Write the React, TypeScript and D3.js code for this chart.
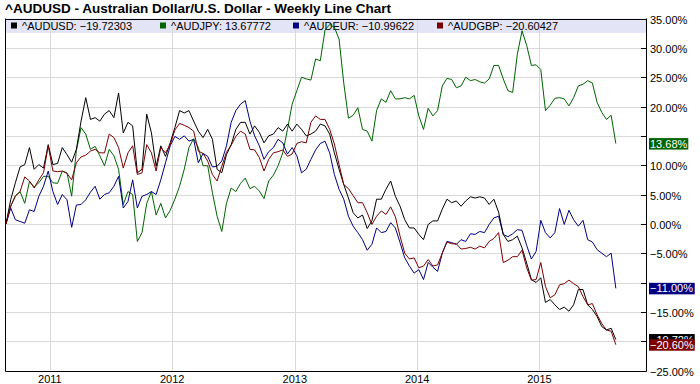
import React from 'react';
import * as d3 from 'd3';

const W = 700;
const H = 384;

const startDate = new Date(2010, 7, 23);
const domainEnd = new Date(2015, 10, 15);
// two-weekly sampling dates
const dates = d3.range(131).map((i) => d3.timeDay.offset(startDate, 14 * i));

const title = '^AUDUSD - Australian Dollar/U.S. Dollar - Weekly Line Chart';
const seriesNames = ['^AUDUSD', '^AUDJPY', '^AUDEUR', '^AUDGBP'];
const legendValues = ['−19.72303', '13.67772', '−10.99622', '−20.60427'];
const seriesColors = ['#000000', '#006400', '#000080', '#7a0000'];
const yTicks = [35, 30, 25, 20, 15, 10, 5, 0, -5, -10, -15, -20, -25];
// tick labels suppressed by the last-value boxes in the reference
const hiddenTickLabels = [15, -10, -20];
const yearTicks = [2011, 2012, 2013, 2014, 2015];

const audusd = [
  0, 4.1, 7, 9.7, 10.1, 13, 9.3, 10.1, 9.5, 13.5,
  10.1, 10.3, 13, 11.8, 10.5, 12.7, 17.5, 21.5, 17.8, 18.1,
  17.5, 18.7, 19.3, 18.1, 22.3, 15.5, 17.3, 16.7, 8.7, 9.3,
  18.7, 15.5, 9.8, 13.3, 11.5, 13.8, 16.4, 19.3, 18.9, 19.3,
  17.5, 15.8, 14.7, 16.1, 14.4, 9.3, 8.7, 11.8, 13.5, 16.1,
  17.3, 17.3, 15.3, 16.7, 15.6, 13.8, 15, 15.3, 16.4, 15.8,
  17, 15.8, 17, 16.1, 15, 15.3, 15.8, 17, 16.7, 15.3,
  12.1, 9.3, 6.7, 4.4, 1.9, 1, 1.5, -0.8, 0.5, 4.2,
  4.2, 5.9, 7.3, 4.7, 3, 0.7, -0.7, -0.7, -1.8, -2.7,
  -0.1, 0.5, 0.5, 2.5, 4.2, 3.6, 3.9, 3, 3.9, 4.6,
  4.4, 4.6, 4.4, 3.3, 4.2, 2, -1.8, -3, -2.7, -2.1,
  -4.1, -6.7, -9.5, -10, -9.2, -13.4, -12.9, -13.8, -14.6, -14.2,
  -14.9, -13.8, -11.2, -11.2, -13.8, -14.6, -15.8, -17.5, -18.1, -17.8,
  -19.72303,
];

const audjpy = [
  0, 3, 4.8, 5.5, 3.5, 7.2, 6.3, 7, 8.1, 8.1,
  7, 6.9, 9, 8.7, 4.7, 12.5, 16.4, 15.3, 12.7, 13.2,
  11.6, 9.9, 12.7, 11.6, 9.3, 3.3, 5.5, 5, -3, -1.5,
  3.5, 5.5, 1.5, 3.5, 1, 2.3, 4.2, 6.4, 9.3, 13,
  14.5, 13, 9.9, 9.9, 5.3, 1.3, -1.3, 3.5, 6.1, 5.5,
  6.9, 7.8, 6, 6.4, 5.6, 4.3, 7.3, 8.3, 9.9, 12.1,
  16.1, 20.4, 22.7, 25, 24.7, 24.5, 28.1, 27.8, 33, 34,
  33.5, 31.5, 24, 18, 18.5, 19.8, 16.1, 15.8, 14.1, 19.3,
  21.3, 20.7, 22.7, 21.3, 21.3, 21.5, 21.3, 21.9, 18.4, 16.1,
  19.7, 18.4, 19.3, 23.5, 24.8, 24.6, 23.2, 23.5, 25, 24.4,
  24.6, 24.2, 24, 24.7, 27, 27, 24.7, 22.7, 22.4, 28.9,
  32.9, 30.4, 27, 27.1, 26.3, 19.3, 20.2, 21.4, 21.5, 21.3,
  20.1, 21.5, 23.5, 23.8, 24.4, 24, 20.7, 19, 17.8, 18.5,
  13.67772,
];

const audeur = [
  0, 2.7, 0.7, 0.4, 0.1, 2.4, 2.1, 4.7, 6.4, 9,
  5.5, 3.3, 5, 4.1, -0.6, 3.2, 3.3, 4.1, 5.4, 6.4,
  4.2, 5, 5.3, 6.4, 8.1, 2.7, 3.8, 7.5, 2.7, 4.7,
  5, 5.5, 5, 7.5, 10.4, 13.3, 14.9, 14.4, 15, 14.1,
  14.4, 10.4, 12, 11.5, 9.7, 9.8, 10.7, 13.3, 17.3, 19.3,
  20.4, 21, 17.5, 15, 13.3, 11, 12.3, 13, 14.4, 13.8,
  11.9, 13, 11.6, 8.7, 9.3, 11, 12.6, 13.7, 14.1, 12.1,
  8.4, 5.9, 4.2, 1.3, -0.4, -1.5, -2.7, -4.5, -3.5, -0.7,
  -1.5, -1.3, 0.2, -0.7, -3.2, -5.8, -7.2, -8.4, -7.8, -9.5,
  -6.6, -7.4, -8.1, -5, -3, -3.2, -3.5, -2.7, -3, -1.7,
  -1.8, -1.3, -1.5, -0.1, 1, 1.3, -1.8, -2.2, -1.7, -1,
  -1.1, -3.7, -6, -4.7, 0.6, -1.5, -2.4, -1.5, 2.6, -0.1,
  2.3, 0.7, -0.4, 0.6, -2.7, -3.1, -4.4, -5, -5.6, -5,
  -10.99622,
];

const audgbp = [
  0, 3, 4.7, 5.5, 8, 7.3, 6.1, 7.5, 8.7, 13.3,
  9, 8.9, 9, 8.6, 7.5, 10.4, 11.4, 11.7, 12.4, 12.7,
  12.1, 12.1, 15.3, 14.7, 13, 9.5, 12.1, 13.3, 8.4, 8.7,
  13.5, 12.1, 9, 13, 12.1, 13.5, 16, 17.1, 16.8, 16.4,
  15.8, 12.4, 12, 10.7, 8.4, 7.3, 9.8, 12.2, 13.4, 14.9,
  15.8, 15.3, 12.7, 12.6, 11.3, 9, 11, 12.1, 12.3, 12.6,
  11.5, 11.9, 13.7, 14, 13.8, 17.3, 18.4, 17.8, 17.8, 16.1,
  13.6, 10.1, 6.7, 6, 4.8, 3.6, 3.6, 1.9, -0.1, 1.3,
  2.2, 1.6, 2.9, 1.2, -2.1, -5, -6, -5.8, -7.5, -7.2,
  -6.1, -7.2, -7, -5, -3.1, -3.4, -3.4, -4.3, -4.2, -4,
  -4.3, -3.8, -4.1, -3, -2.5, -1.5, -6.6, -6.2, -5.6, -5.6,
  -4.5, -7.5, -9.6, -9.5, -6.6, -10.7, -12.6, -12.1, -10.4, -10.2,
  -9.6, -10.2, -10.7, -12.4, -13.8, -13.6, -15.5, -17, -18.1, -18.3,
  -20.60427,
];

const seriesData = [audusd, audjpy, audeur, audgbp];

const FONT = '"Liberation Sans", Arial, Helvetica, sans-serif';

function textWidth(s: string, size: number) {
  let w = 0;
  for (const c of s) {
    if (c === '.') w += 0.278;
    else if (c === '%') w += 0.889;
    else if (c === '−') w += 0.584;
    else w += 0.556;
  }
  return w * size;
}

function fmtPct(v: number) {
  const s = Math.abs(v).toFixed(2) + '%';
  return v < 0 ? '−' + s : s;
}

export default function App() {
  const left = 6;
  const right = 646;
  const top = 18.5;
  const bottom = 370.5;
  const x = d3.scaleTime().domain([startDate, domainEnd]).range([left, right]);
  const y = d3.scaleLinear().domain([-25, 35]).range([bottom, top]);
  const line = d3
    .line<number>()
    .x((_, i) => x(dates[i]))
    .y((d) => y(d));

  const legendX = [11, 160, 293, 437];
  const drawOrder = [1, 2, 0, 3];
  const labelOrder = [1, 2, 0, 3];

  return (
    <svg
      width={W}
      height={H}
      style={{ position: 'absolute', left: 0, top: 0, display: 'block', background: '#fff' }}
      fontFamily={FONT}
    >
      <rect x={0} y={0} width={W} height={H} fill="#fff" />
      <text x={5} y={13} fontSize={13.5} fontWeight="bold" fill="#000">
        {title}
      </text>
      {/* legend band */}
      <rect x={left} y={top} width={right - left} height={14.5} fill="#e4e4f7" />
      {/* horizontal grid */}
      {yTicks.map((t) => {
        const yy = Math.round(y(t)) + 0.5;
        return (
          <line key={'g' + t} x1={left} x2={right} y1={yy} y2={yy} stroke="#d9d9d9" strokeWidth={1} />
        );
      })}
      {/* vertical grid */}
      {yearTicks.map((yr) => {
        const xx = Math.round(x(new Date(yr, 0, 1))) + 0.5;
        return (
          <line key={'v' + yr} x1={xx} x2={xx} y1={top} y2={bottom} stroke="#d9d9d9" strokeWidth={1} />
        );
      })}
      {/* legend items */}
      {seriesNames.map((n, i) => (
        <g key={'l' + n}>
          <rect x={legendX[i]} y={22.5} width={6} height={6} fill={seriesColors[i]} />
          <text x={legendX[i] + 11} y={29.5} fontSize={11} fill="#000">
            {n + ': ' + legendValues[i]}
          </text>
        </g>
      ))}
      {/* frame */}
      <line x1={left - 0.5} x2={right + 0.5} y1={Math.round(top) + 0.5} y2={Math.round(top) + 0.5} stroke="#000" />
      <line x1={left - 0.5} x2={right + 0.5} y1={Math.round(bottom) + 0.5} y2={Math.round(bottom) + 0.5} stroke="#000" />
      <line x1={left - 0.5} x2={left - 0.5} y1={top} y2={bottom + 1} stroke="#000" />
      <line x1={right + 0.5} x2={right + 0.5} y1={top} y2={bottom + 1} stroke="#000" />
      {/* right axis ticks and labels */}
      {yTicks.map((t) => {
        const yy = Math.round(y(t)) + 0.5;
        return (
          <g key={'t' + t}>
            <line x1={right - 5} x2={right} y1={yy} y2={yy} stroke="#000" />
            {hiddenTickLabels.indexOf(t) < 0 && (
              <text x={650} y={yy + 4} fontSize={11} fill="#000">
                {fmtPct(t)}
              </text>
            )}
          </g>
        );
      })}
      {/* bottom axis labels */}
      {yearTicks.map((yr) => (
        <text key={'x' + yr} x={x(new Date(yr, 0, 1))} y={383} fontSize={11} textAnchor="middle" fill="#000">
          {String(yr)}
        </text>
      ))}
      {/* series lines */}
      {drawOrder.map((i) => (
        <path
          key={'s' + i}
          d={line(seriesData[i]) || ''}
          fill="none"
          stroke={seriesColors[i]}
          strokeWidth={1}
          strokeLinejoin="round"
        />
      ))}
      {/* last value labels */}
      {labelOrder.map((i) => {
        const arr = seriesData[i];
        const v = arr[arr.length - 1];
        const label = fmtPct(v);
        const yy = y(v);
        const w = textWidth(label, 11) + 2;
        return (
          <g key={'v' + i}>
            <rect x={649} y={yy - 5.5} width={w} height={11.5} fill={seriesColors[i]} />
            <text x={650} y={yy + 4} fontSize={11} fill="#fff">
              {label}
            </text>
          </g>
        );
      })}
    </svg>
  );
}
